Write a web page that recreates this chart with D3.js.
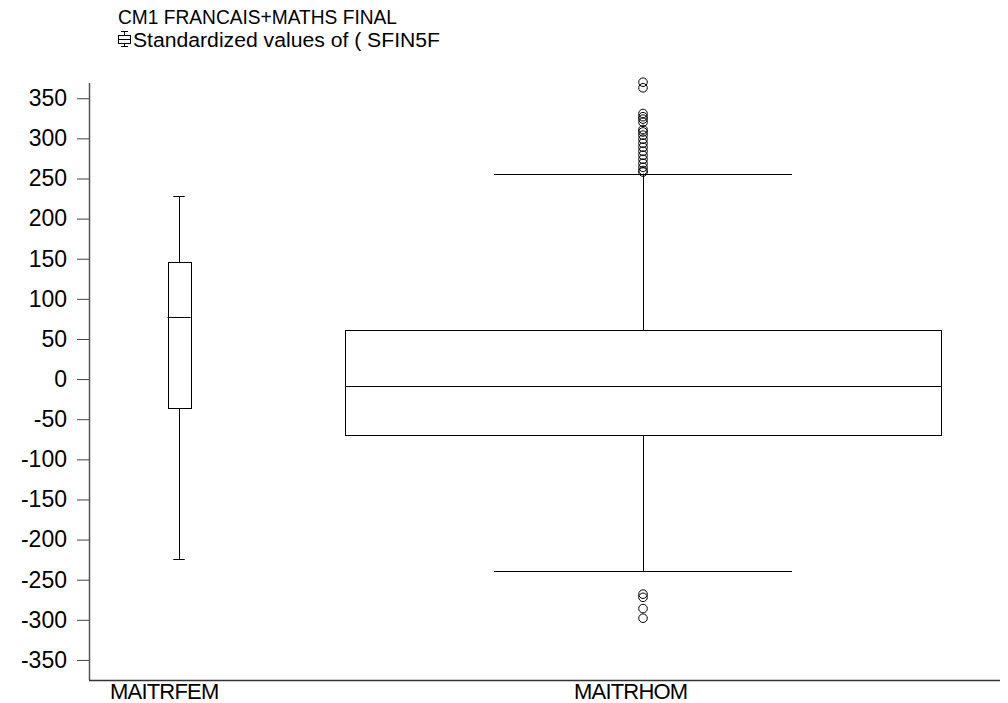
<!DOCTYPE html>
<html lang="en">
<head>
  <meta charset="UTF-8" />
  <script src="https://d3js.org/d3.v7.min.js"></script>
  <title>CM1 FRANCAIS+MATHS FINAL</title>
  <style>
    body { margin: 0; background: #fff; }
    text { font-family: "Liberation Sans", Arial, sans-serif; fill: #000; }
  </style>
</head>
<body>
  <svg width="1008" height="703"></svg>

  <script>
    const width = 1008;
    const height = 703;

    // data
    const categories = ["MAITRFEM", "MAITRHOM"];
    const whiskerLow = [-224, -239];
    const q1 = [-36, -70];
    const median = [78, -9];
    const q3 = [146, 61];
    const whiskerHigh = [228, 256];
    const outliersFem = [];
    const outliersHom = [370, 363, 331, 327, 324, 320, 311, 308, 304, 299, 294, 289, 284, 279, 274, 269, 264, 260, 258,
                         -268, -272, -286, -298];
    const yTicks = [350, 300, 250, 200, 150, 100, 50, 0, -50, -100, -150, -200, -250, -300, -350];

    // layout
    const plot = { left: 89, right: 1000, top: 83, bottom: 680 };
    const boxWidths = [23, 596];
    const catCenters = [179, 643];

    const y = d3.scaleLinear()
      .domain([-375, 369])
      .range([plot.bottom, plot.top]);

    const x = d3.scaleOrdinal()
      .domain(categories)
      .range(catCenters);

    const boxes = categories.map((c, i) => ({
      name: c,
      lo: whiskerLow[i], q1: q1[i], med: median[i], q3: q3[i], hi: whiskerHigh[i],
      w: boxWidths[i],
      out: i === 0 ? outliersFem : outliersHom
    }));

    const svg = d3.select("svg");

    // title
    svg.append("text")
      .attr("x", 118).attr("y", 24)
      .style("font-size", "20px")
      .attr("textLength", 279)
      .attr("lengthAdjust", "spacingAndGlyphs")
      .text("CM1 FRANCAIS+MATHS FINAL");

    // legend glyph (little boxplot)
    const lg = svg.append("g").attr("stroke", "#000").attr("fill", "none").attr("stroke-width", 1);
    lg.append("line").attr("x1", 124.5).attr("x2", 124.5).attr("y1", 31).attr("y2", 47);
    lg.append("line").attr("x1", 121).attr("x2", 128).attr("y1", 31.5).attr("y2", 31.5);
    lg.append("line").attr("x1", 121).attr("x2", 128).attr("y1", 46.5).attr("y2", 46.5);
    lg.append("rect").attr("x", 118.5).attr("y", 35.5).attr("width", 12).attr("height", 8).attr("fill", "#fff");
    lg.append("line").attr("x1", 118.5).attr("x2", 130.5).attr("y1", 39.5).attr("y2", 39.5);

    svg.append("text")
      .attr("x", 133).attr("y", 47)
      .style("font-size", "20px")
      .attr("textLength", 307)
      .attr("lengthAdjust", "spacingAndGlyphs")
      .text("Standardized values of ( SFIN5F");

    // axes
    const yAxis = d3.axisLeft(y)
      .tickValues(yTicks)
      .tickSize(12)
      .tickPadding(10)
      .tickFormat(d => String(d));

    const gy = svg.append("g")
      .attr("transform", `translate(${plot.left},0)`)
      .call(yAxis);
    gy.select(".domain").remove();
    gy.selectAll(".tick line").attr("stroke", "#444");
    gy.selectAll(".tick text")
      .style("font-size", "23px")
      .style("font-family", "'Liberation Sans', Arial, sans-serif")
      .attr("fill", "#000");

    svg.append("line")
      .attr("x1", plot.left + 0.5).attr("x2", plot.left + 0.5)
      .attr("y1", plot.top).attr("y2", plot.bottom)
      .attr("stroke", "#555").attr("stroke-width", 1.5);
    svg.append("line")
      .attr("x1", plot.left).attr("x2", plot.right)
      .attr("y1", plot.bottom + 0.5).attr("y2", plot.bottom + 0.5)
      .attr("stroke", "#333").attr("stroke-width", 1.5);

    // category labels
    svg.selectAll(".cat")
      .data(categories)
      .enter()
      .append("text")
      .attr("class", "cat")
      .attr("x", d => x(d) - 69)
      .attr("y", 699)
      .style("font-size", "22px")
      .style("letter-spacing", "-0.8px")
      .text(d => d);

    // boxes
    const g = svg.selectAll(".box")
      .data(boxes)
      .enter()
      .append("g")
      .attr("class", "box")
      .attr("stroke", "#000")
      .attr("stroke-width", 1)
      .attr("fill", "none");

    const px = v => Math.round(v) + 0.5;

    g.append("line")
      .attr("x1", d => px(x(d.name))).attr("x2", d => px(x(d.name)))
      .attr("y1", d => y(d.hi)).attr("y2", d => y(d.q3));
    g.append("line")
      .attr("x1", d => px(x(d.name))).attr("x2", d => px(x(d.name)))
      .attr("y1", d => y(d.q1)).attr("y2", d => y(d.lo));
    g.append("line")
      .attr("x1", d => x(d.name) - d.w / 4).attr("x2", d => x(d.name) + d.w / 4)
      .attr("y1", d => px(y(d.hi))).attr("y2", d => px(y(d.hi)));
    g.append("line")
      .attr("x1", d => x(d.name) - d.w / 4).attr("x2", d => x(d.name) + d.w / 4)
      .attr("y1", d => px(y(d.lo))).attr("y2", d => px(y(d.lo)));
    g.append("rect")
      .attr("x", d => px(x(d.name) - d.w / 2))
      .attr("y", d => px(y(d.q3)))
      .attr("width", d => d.w)
      .attr("height", d => Math.round(y(d.q1) - y(d.q3)))
      .attr("fill", "#fff");
    g.append("line")
      .attr("x1", d => x(d.name) - d.w / 2).attr("x2", d => x(d.name) + d.w / 2)
      .attr("y1", d => px(y(d.med))).attr("y2", d => px(y(d.med)));

    g.selectAll("circle")
      .data(d => d.out.map(v => ({ name: d.name, v })))
      .enter()
      .append("circle")
      .attr("cx", d => x(d.name))
      .attr("cy", d => y(d.v))
      .attr("r", 4.3)
      .attr("fill", "none");
  </script>
</body>
</html>
